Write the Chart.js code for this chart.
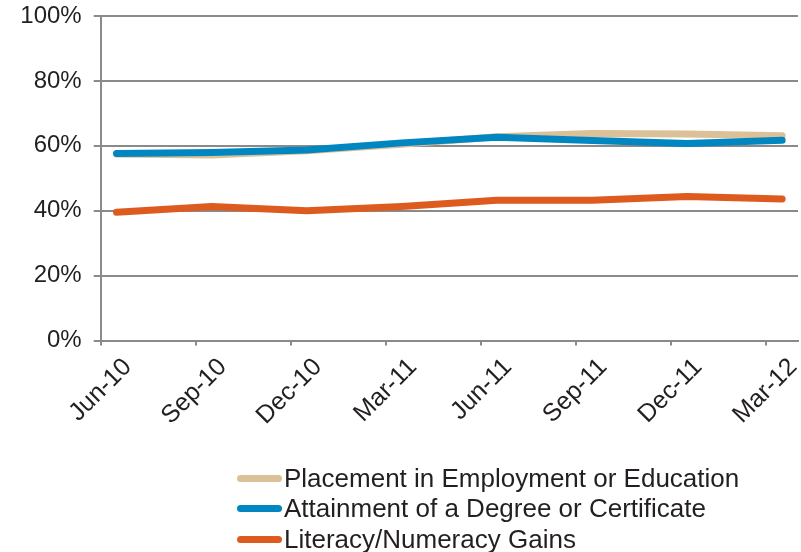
<!DOCTYPE html>
<html>
<head>
<meta charset="utf-8">
<script src="https://cdn.jsdelivr.net/npm/chart.js@4.4.1/dist/chart.umd.min.js"></script>
<style>
  html, body { margin: 0; padding: 0; background: #fff; }
  #wrap { position: relative; width: 801px; height: 552px; }
  #legend {
    position: absolute; left: 237px; top: 463px;
    font-family: "Liberation Sans", Arial, sans-serif; font-size: 26px; color: #231f20;
  }
  .item { display: flex; align-items: center; height: 30.5px; white-space: nowrap; }
  .swatch { width: 45px; height: 7px; border-radius: 3.5px; margin-right: 2px; }
</style>
</head>
<body>
<div id="wrap">
  <canvas id="chart" width="801" height="552"></canvas>
  <div id="legend"></div>
</div>
<script>
// quarterly reporting dates
var categories = ['Jun-10', 'Sep-10', 'Dec-10', 'Mar-11', 'Jun-11', 'Sep-11', 'Dec-11', 'Mar-12'];
var quarterMonths = [0, 3, 6, 9, 12, 15, 18, 21]; // months after Jun-10
var reportOffset = 0.5; // reports sit mid-month

// percent of participants
var placement = [57.5, 57.2, 58.5, 60.5, 62.8, 63.8, 63.6, 63.1];
var attainment = [57.6, 57.9, 58.7, 60.9, 62.6, 61.6, 60.7, 61.7];
var literacy = [39.5, 41.3, 40.0, 41.3, 43.2, 43.2, 44.4, 43.6];

var seriesNames = ['Placement in Employment or Education', 'Attainment of a Degree or Certificate', 'Literacy/Numeracy Gains'];
var seriesColors = ['#dcc097', '#0087c1', '#dd5b1e'];

var fontFamily = '"Liberation Sans", Arial, sans-serif';
var textColor = '#231f20';
var axisColor = '#8a8a8a';

function points(values) {
    return values.map(function(v, i) {
        return {x: quarterMonths[i] + reportOffset, y: v};
    });
}

var datasets = [placement, attainment, literacy].map(function(values, i) {
    return {
        label: seriesNames[i],
        data: points(values),
        borderColor: seriesColors[i],
        backgroundColor: seriesColors[i],
        order: i === 0 ? 2 : (i === 1 ? 1 : 0)
    };
});

var chart = new Chart(document.getElementById('chart'), {
    type: 'line',
    data: {datasets: datasets},
    options: {
        responsive: false,
        animation: false,
        layout: {padding: {left: 0, right: 3, top: 16, bottom: 0}},
        plugins: {legend: {display: false}, tooltip: {enabled: false}},
        elements: {
            point: {radius: 0},
            line: {borderWidth: 7, borderCapStyle: 'round', borderJoinStyle: 'round', tension: 0}
        },
        scales: {
            x: {
                type: 'linear',
                min: 0,
                max: 22,
                ticks: {
                    stepSize: 3,
                    includeBounds: false,
                    autoSkip: false,
                    minRotation: 45,
                    maxRotation: 45,
                    labelOffset: 27,
                    padding: 7,
                    color: textColor,
                    font: {size: 25, family: fontFamily},
                    callback: function(v) {
                        var i = quarterMonths.indexOf(v);
                        return i >= 0 ? categories[i] : '';
                    }
                },
                grid: {drawOnChartArea: false, drawTicks: true, tickLength: 5, color: axisColor, lineWidth: 2},
                border: {color: axisColor, width: 2},
                afterFit: function(scale) {
                    scale.height = 552 - 340.5;
                    scale.paddingLeft = 0;
                    scale.paddingRight = 0;
                }
            },
            y: {
                min: 0,
                max: 100,
                ticks: {
                    stepSize: 20,
                    padding: 12,
                    color: textColor,
                    font: {size: 24, family: fontFamily},
                    callback: function(v) { return v + '%'; }
                },
                grid: {color: axisColor, lineWidth: 2, tickLength: 7},
                border: {color: axisColor, width: 2},
                afterFit: function(scale) {
                    scale.width = 100.7;
                    scale.paddingTop = 0;
                    scale.paddingBottom = 0;
                }
            }
        }
    }
});

// legend as stacked rows, built from the chart's datasets
var legend = document.getElementById('legend');
chart.data.datasets.forEach(function(ds) {
    var row = document.createElement('div');
    row.className = 'item';
    var sw = document.createElement('span');
    sw.className = 'swatch';
    sw.style.background = ds.borderColor;
    var txt = document.createElement('span');
    txt.textContent = ds.label;
    row.appendChild(sw);
    row.appendChild(txt);
    legend.appendChild(row);
});
</script>
</body>
</html>
